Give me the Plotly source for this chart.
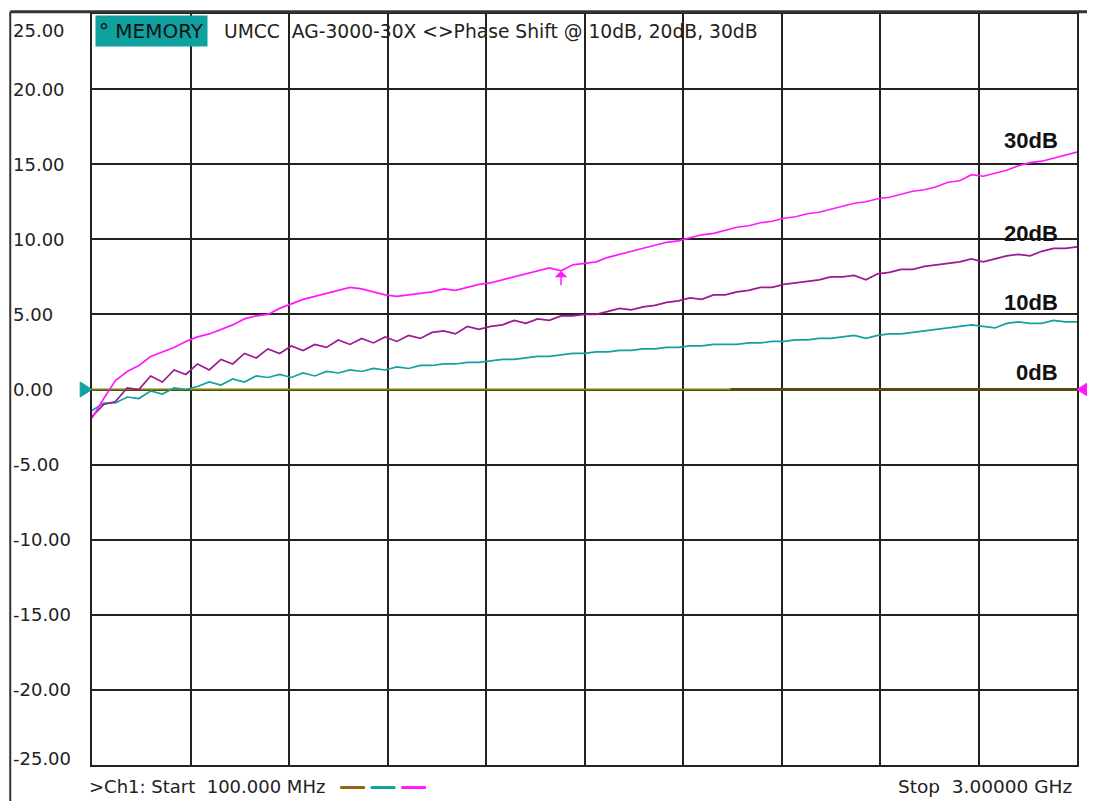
import numpy as np
import plotly.graph_objects as go

# sweep: 100 MHz .. 3 GHz
freq_mhz = np.linspace(100, 3000, 85)

phase_10db = [
    -1.4, -0.9, -0.9, -0.5, -0.6, -0.1, -0.3, 0.1, 0.0, 0.2,
    0.5, 0.3, 0.7, 0.5, 0.9, 0.8, 1.0, 0.8, 1.1, 0.9,
    1.2, 1.1, 1.3, 1.2, 1.4, 1.3, 1.5, 1.4, 1.6, 1.6,
    1.7, 1.7, 1.8, 1.8, 1.9, 2.0, 2.0, 2.1, 2.2, 2.2,
    2.3, 2.4, 2.4, 2.5, 2.5, 2.6, 2.6, 2.7, 2.7, 2.8,
    2.8, 2.9, 2.9, 3.0, 3.0, 3.0, 3.1, 3.1, 3.2, 3.2,
    3.3, 3.3, 3.4, 3.4, 3.5, 3.6, 3.4, 3.6, 3.7, 3.7,
    3.8, 3.9, 4.0, 4.1, 4.2, 4.3, 4.2, 4.1, 4.4, 4.5,
    4.4, 4.4, 4.6, 4.5, 4.5,
]
phase_20db = [
    -1.8, -1.0, -0.8, 0.1, 0.0, 0.9, 0.5, 1.3, 1.0, 1.7,
    1.3, 2.0, 1.7, 2.4, 2.1, 2.7, 2.4, 2.9, 2.6, 3.0,
    2.8, 3.3, 3.0, 3.4, 3.1, 3.5, 3.2, 3.6, 3.4, 3.8,
    3.9, 3.7, 4.2, 4.0, 4.2, 4.3, 4.6, 4.4, 4.7, 4.6,
    4.9, 4.9, 5.0, 5.0, 5.2, 5.4, 5.3, 5.5, 5.6, 5.8,
    5.9, 6.1, 6.0, 6.3, 6.3, 6.5, 6.6, 6.8, 6.8, 7.0,
    7.1, 7.2, 7.3, 7.5, 7.5, 7.6, 7.3, 7.7, 7.8, 8.0,
    8.0, 8.2, 8.3, 8.4, 8.5, 8.7, 8.5, 8.7, 8.9, 9.0,
    8.9, 9.2, 9.4, 9.4, 9.5,
]
phase_30db = [
    -1.9, -0.6, 0.6, 1.2, 1.6, 2.2, 2.5, 2.8, 3.2, 3.5,
    3.7, 4.0, 4.3, 4.7, 4.9, 5.0, 5.4, 5.7, 6.0, 6.2,
    6.4, 6.6, 6.8, 6.7, 6.5, 6.3, 6.2, 6.3, 6.4, 6.5,
    6.7, 6.6, 6.8, 7.0, 7.1, 7.3, 7.5, 7.7, 7.9, 8.1,
    7.9, 8.3, 8.4, 8.5, 8.8, 9.0, 9.2, 9.4, 9.6, 9.8,
    9.9, 10.1, 10.3, 10.4, 10.6, 10.8, 10.9, 11.1, 11.2, 11.4,
    11.5, 11.7, 11.8, 12.0, 12.2, 12.4, 12.5, 12.7, 12.8, 13.0,
    13.2, 13.3, 13.5, 13.8, 13.9, 14.3, 14.2, 14.4, 14.6, 14.9,
    15.1, 15.2, 15.4, 15.6, 15.8,
]
phase_0db = [0.0] * len(freq_mhz)
memory_freq = [1980, 3000]
memory_vals = [0.0, 0.0]
marker_idx = 40

y_ticks = [25, 20, 15, 10, 5, 0, -5, -10, -15, -20, -25]
trace_labels = ["30dB", "20dB", "10dB", "0dB"]
label_y = [16.6, 10.4, 5.8, 1.1]

OLIVE = "#7f7f00"
TEAL = "#14a0a0"
PURPLE = "#9a1a90"
MAGENTA = "#ff19ff"
BROWN = "#9a6010"
GRID = "#222222"
FONT = "DejaVu Sans"

fig = go.Figure()
fig.add_trace(go.Scatter(x=freq_mhz, y=phase_0db, mode="lines",
                         line=dict(color=OLIVE, width=2)))
fig.add_trace(go.Scatter(x=memory_freq, y=memory_vals, mode="lines",
                         line=dict(color="#5a4a10", width=3)))
fig.add_trace(go.Scatter(x=freq_mhz, y=phase_10db, mode="lines",
                         line=dict(color=TEAL, width=1.7)))
fig.add_trace(go.Scatter(x=freq_mhz, y=phase_20db, mode="lines",
                         line=dict(color=PURPLE, width=1.7)))
fig.add_trace(go.Scatter(x=freq_mhz, y=phase_30db, mode="lines",
                         line=dict(color=MAGENTA, width=1.7)))

ann = []
# y tick labels, drawn by hand like the analyzer does
for v in y_ticks:
    yy = v
    if v == 25:
        yy = 23.9
    if v == -25:
        yy = -24.6
    ann.append(dict(x=-0.082, y=yy, xref="paper", yref="y", text=f"{v:.2f}",
                    showarrow=False, xanchor="left", yanchor="middle",
                    font=dict(family=FONT, size=18, color="#222")))
for t, v in zip(trace_labels, label_y):
    ann.append(dict(x=0.983, y=v, xref="paper", yref="y", text=f"<b>{t}</b>",
                    showarrow=False, xanchor="right", yanchor="middle",
                    font=dict(family="Liberation Sans", size=22, color="#111")))
ann.append(dict(x=0.003, y=0.977, xref="paper", yref="paper",
                text="° MEMORY", showarrow=False, xanchor="left", yanchor="middle",
                bgcolor="#0fa0a0", borderpad=3,
                font=dict(family=FONT, size=20, color="#111")))
ann.append(dict(x=0.132, y=0.977, xref="paper", yref="paper",
                text="UMCC  AG-3000-30X <>Phase Shift @ 10dB, 20dB, 30dB",
                showarrow=False, xanchor="left", yanchor="middle",
                font=dict(family=FONT, size=18.7, color="#222")))
ann.append(dict(x=-0.005, y=-0.012, xref="paper", yref="paper",
                text=">Ch1: Start  100.000 MHz", showarrow=False,
                xanchor="left", yanchor="top",
                font=dict(family=FONT, size=18, color="#222")))
ann.append(dict(x=0.997, y=-0.012, xref="paper", yref="paper",
                text="Stop  3.00000 GHz", showarrow=False,
                xanchor="right", yanchor="top",
                font=dict(family=FONT, size=18.5, color="#222")))
# marker on 30dB trace
ann.append(dict(x=freq_mhz[marker_idx], y=phase_30db[marker_idx], xref="x", yref="y",
                showarrow=True, ax=0, ay=16, arrowhead=1, arrowsize=1.4,
                arrowwidth=1.5, arrowcolor=MAGENTA, text=""))

shapes = [
    # outer frame lines
    dict(type="line", xref="paper", yref="paper", x0=-0.083, x1=1.012, y0=1.003, y1=1.003,
         line=dict(color="#333", width=3)),
    dict(type="line", xref="paper", yref="paper", x0=-0.083, x1=-0.083, y0=1.003, y1=-0.05,
         line=dict(color="#333", width=2)),
    dict(type="line", xref="paper", yref="paper", x0=1.0115, x1=1.0115, y0=1.003, y1=-0.05,
         line=dict(color="#ddd", width=2)),
    # legend dashes
    dict(type="line", xref="paper", yref="paper", x0=0.252, x1=0.277, y0=-0.03, y1=-0.03,
         line=dict(color=BROWN, width=3)),
    dict(type="line", xref="paper", yref="paper", x0=0.283, x1=0.308, y0=-0.03, y1=-0.03,
         line=dict(color=TEAL, width=3)),
    dict(type="line", xref="paper", yref="paper", x0=0.314, x1=0.339, y0=-0.03, y1=-0.03,
         line=dict(color=MAGENTA, width=3)),
    # reference triangles
    dict(type="path", xref="paper", yref="paper",
         path="M -0.012 0.51 L 0.0 0.5 L -0.012 0.49 Z",
         fillcolor=TEAL, line=dict(color=TEAL, width=1)),
    dict(type="path", xref="paper", yref="paper",
         path="M 1.012 0.51 L 1.0 0.5 L 1.012 0.49 Z",
         fillcolor=MAGENTA, line=dict(color=MAGENTA, width=1)),
]

# the page body adds an 8px margin, so the figure is shrunk to fit the window
fig.update_layout(
    width=1087, height=793,
    margin=dict(l=84, r=18, t=4, b=36),
    paper_bgcolor="white", plot_bgcolor="white",
    showlegend=False,
    annotations=ann, shapes=shapes,
    xaxis=dict(range=[100, 3000], tick0=100, dtick=290, showgrid=True,
               gridcolor=GRID, gridwidth=2, showticklabels=False, zeroline=False,
               showline=True, linecolor=GRID, linewidth=2, mirror=True, ticks=""),
    yaxis=dict(range=[-25, 25], dtick=5, showgrid=True, gridcolor=GRID, gridwidth=2,
               showticklabels=False, zeroline=False, showline=True, linecolor=GRID,
               linewidth=2, mirror=True, ticks=""),
)

fig.write_html("out.html")
